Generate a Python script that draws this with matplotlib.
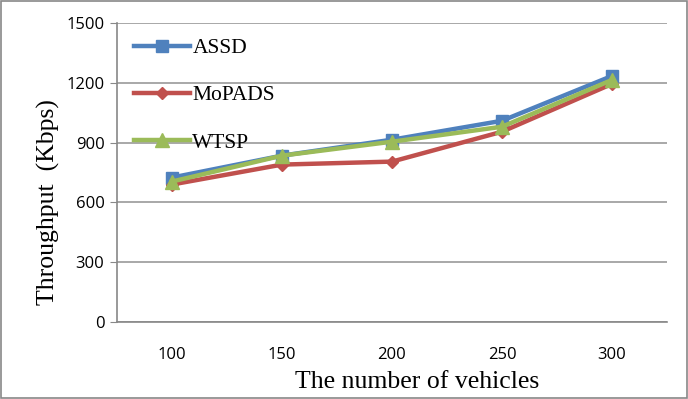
import matplotlib
matplotlib.use("Agg")
import matplotlib.pyplot as plt
from matplotlib.patches import Rectangle

vehicles = ["100", "150", "200", "250", "300"]
assd = [725, 835, 915, 1010, 1235]
mopads = [690, 790, 805, 955, 1195]
wtsp = [705, 835, 905, 980, 1215]
yticks = [0, 300, 600, 900, 1200, 1500]

fig = plt.figure(figsize=(6.88, 3.99), dpi=100)
ax = fig.add_axes([0.170, 0.193, 0.7995, 0.749])

x = list(range(len(vehicles)))
ax.plot(x, assd, color="#4f81bd", lw=3.2, marker="s", ms=9, label="ASSD", zorder=3)
ax.plot(x, mopads, color="#c0504d", lw=3.2, marker="D", ms=6.5, label="MoPADS", zorder=4)
ax.plot(x, wtsp, color="#9bbb59", lw=3.2, marker="^", ms=10, label="WTSP", zorder=5)

ax.set_xlim(-0.5, len(vehicles) - 0.5)
ax.set_ylim(0, 1500)
ax.set_yticks(yticks)
ax.set_xticks(x)
ax.set_xticklabels(vehicles)
ax.grid(axis="y", color="#999999", lw=1.2)
ax.set_axisbelow(True)
for s in ["top", "right"]:
    ax.spines[s].set_visible(False)
ax.spines["left"].set_color("#888888")
ax.spines["bottom"].set_color("#888888")
ax.spines["left"].set_linewidth(1.2)
ax.spines["bottom"].set_linewidth(1.2)
ax.tick_params(axis="y", length=5, color="#888888", labelsize=12, pad=4)
ax.tick_params(axis="x", length=0, labelsize=12, pad=18)
for lab in ax.get_xticklabels() + ax.get_yticklabels():
    lab.set_family("Open Sans")

ax.set_xlabel("The number of vehicles", family="Liberation Serif", fontsize=18.5)
ax.set_ylabel("Throughput  (Kbps)", family="Liberation Serif", fontsize=18.5)
ax.xaxis.set_label_coords(0.545, -0.165)
ax.yaxis.set_label_coords(-0.104, 0.40)

leg = ax.legend(loc="upper left", bbox_to_anchor=(0.0, 1.008), frameon=False,
                prop={"family": "Liberation Serif", "size": 15.5},
                labelspacing=1.27, handlelength=2.6, handletextpad=0.1, borderaxespad=0.4)

fig.patches.append(Rectangle((0.002, 0.002), 0.996, 0.996, transform=fig.transFigure,
                             fill=False, edgecolor="#888888", lw=1.2))

fig.savefig("out.png", dpi=100)
